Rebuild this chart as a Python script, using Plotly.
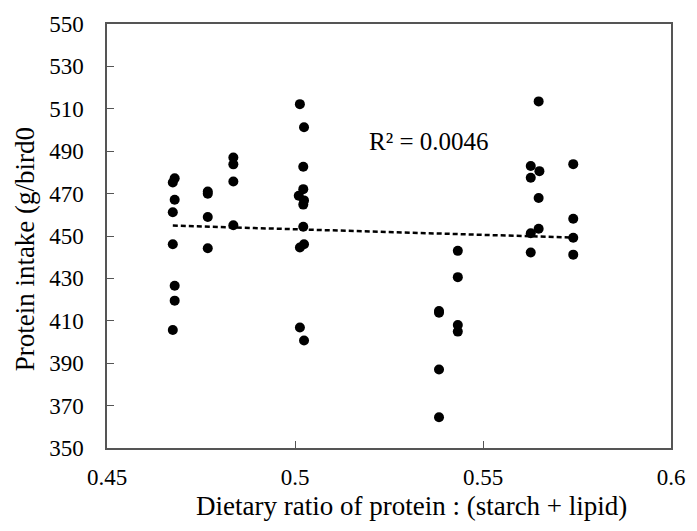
import numpy as np
import plotly.graph_objects as go

# Dietary ratio of protein : (starch + lipid)
ratio = [0.4680, 0.4675, 0.4680, 0.4675, 0.4675, 0.4680, 0.4680, 0.4675,
         0.4768, 0.4768, 0.4768, 0.4768,
         0.4836, 0.4836, 0.4836, 0.4836,
         0.5013, 0.5024, 0.5022, 0.5022, 0.5010, 0.5024, 0.5022, 0.5022, 0.5024, 0.5013, 0.5013, 0.5024,
         0.5383, 0.5383, 0.5383, 0.5383,
         0.5433, 0.5433, 0.5433, 0.5433,
         0.5648, 0.5627, 0.5650, 0.5627, 0.5648, 0.5648, 0.5627, 0.5627,
         0.5740, 0.5740, 0.5740, 0.5740]
# Protein intake (g/bird)
intake = [477.2, 475.2, 467.1, 461.2, 446.1, 426.5, 419.5, 405.7,
          471.0, 469.9, 459.0, 444.2,
          487.0, 483.8, 475.7, 455.1,
          512.2, 501.3, 482.7, 472.1, 469.0, 466.8, 464.8, 454.4, 446.1, 444.6, 406.8, 400.7,
          414.6, 413.8, 387.0, 364.5,
          443.0, 430.6, 408.0, 404.9,
          513.5, 483.0, 480.6, 477.5, 467.9, 453.4, 451.3, 442.2,
          483.9, 458.1, 449.2, 441.2]

r2_label = "R² = 0.0046"
x_title = "Dietary ratio of protein : (starch + lipid)"
y_title = "Protein intake (g/bird0"
x_ticks = [0.45, 0.5, 0.55, 0.6]
x_tick_text = ["0.45", "0.5", "0.55", "0.6"]
y_ticks = list(range(350, 551, 20))

slope, intercept = np.polyfit(ratio, intake, 1)
fit_x = [min(ratio), max(ratio)]
fit_y = [slope * v + intercept for v in fit_x]

font = "Liberation Serif, Times New Roman, serif"

fig = go.Figure()
fig.add_trace(go.Scatter(x=fit_x, y=fit_y, mode="lines",
                         line=dict(color="black", width=2.5, dash="5px,3px"),
                         hoverinfo="skip", showlegend=False))
fig.add_trace(go.Scatter(x=ratio, y=intake, mode="markers",
                         marker=dict(color="black", size=10),
                         showlegend=False))

fig.add_annotation(x=0.5357, y=494.5, xref="x", yref="y", text=r2_label,
                   showarrow=False, xanchor="center", yanchor="middle",
                   font=dict(family=font, size=25, color="black"))

# axis titles placed as annotations in paper coordinates
fig.add_annotation(x=(415 - 107) / 571, y=-(507 - 448) / 429, xref="paper", yref="paper",
                   text=x_title, showarrow=False, xanchor="center", yanchor="middle",
                   font=dict(family=font, size=27, color="black"))
fig.add_annotation(x=-(107 - 24) / 571, y=(448 - 247) / 429, xref="paper", yref="paper",
                   text=y_title, showarrow=False, xanchor="center", yanchor="middle",
                   textangle=-90,
                   font=dict(family=font, size=27, color="black"))

fig.update_layout(
    width=697, height=531,
    margin=dict(l=107, r=19, t=19, b=83),
    paper_bgcolor="white", plot_bgcolor="white",
    font=dict(family=font, size=23, color="black"),
    xaxis=dict(range=[0.45, 0.6], tickvals=x_ticks, ticktext=x_tick_text,
               ticks="inside", ticklen=7, tickcolor="#555",
               showline=True, linecolor="#555", linewidth=1.5, mirror=True,
               showgrid=False, zeroline=False, ticklabelstandoff=8),
    yaxis=dict(range=[350, 550], tickvals=y_ticks,
               ticks="inside", ticklen=7, tickcolor="#555",
               showline=True, linecolor="#555", linewidth=1.5, mirror=True,
               showgrid=False, zeroline=False, ticklabelstandoff=17),
)

fig.write_html("out.html")
